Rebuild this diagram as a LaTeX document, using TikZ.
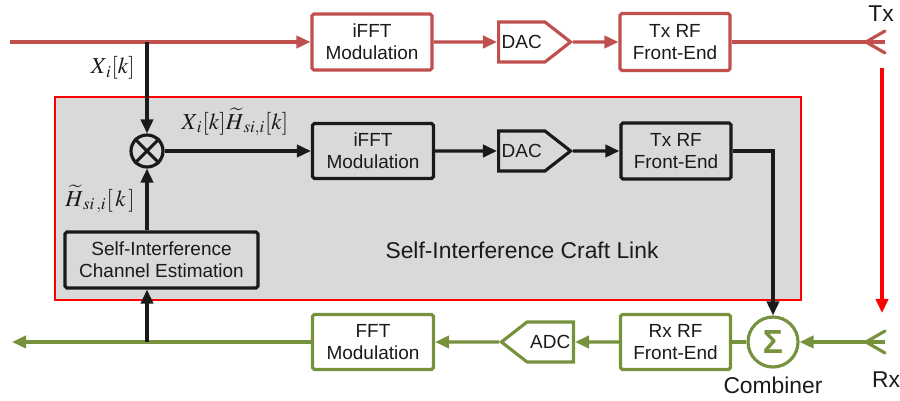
\documentclass[tikz,border=0pt]{standalone}
\usepackage{mathptmx}
\usepackage[no-math]{fontspec}
\setmainfont{Liberation Sans}
\usetikzlibrary{arrows.meta,shapes.symbols}

\definecolor{txred}{RGB}{192,80,77}
\definecolor{rxgreen}{RGB}{118,146,60}
\definecolor{craftgray}{RGB}{217,217,217}
\definecolor{ink}{RGB}{26,26,26}

\tikzset{
  every picture/.append style={x=0.02cm, y=-0.02cm},
  sigline/.style={draw=#1, line width=1.8pt},
  tip/.style={-{Triangle[length=8pt,width=7pt]}},
  blk/.style={draw=#1, line width=1.8pt, rounded corners=1pt, align=center,
    inner sep=1pt, font=\fontsize{10.8}{12.6}\selectfont, text=ink},
  conv/.style={draw=#1, line width=1.8pt, shape=signal, signal pointer angle=76,
    minimum width=1.44cm, minimum height=0.8cm, inner sep=1pt,
    font=\fontsize{10.8}{12.6}\selectfont, text=ink},
  lbl/.style={font=\fontsize{13}{15}\selectfont, text=ink},
}

\begin{document}
\begin{tikzpicture}
  \useasboundingbox (0,0) rectangle (900,401);

  % craft link
  \node[draw=red, line width=1pt, fill=craftgray, minimum width=14.92cm,
    minimum height=4.06cm] (craft) at(428,198.5){};
  \node[lbl] (craftlbl) at(522,250){Self-Interference Craft Link};

  % Tx chain
  \coordinate (tin) at(10,42);
  \coordinate (tsplit) at(147,42);
  \coordinate (tant) at(885,42);
  \node[blk=txred, fill=white, minimum width=2.4cm, minimum height=1.12cm] (tifft) at(372,42){iFFT\\Modulation};
  \node[conv=txred, fill=white, signal to=east, anchor=west] (tdac) at(497,42){DAC};
  \node[blk=txred, fill=white, minimum width=2.2cm, minimum height=1.14cm] (ttx) at(675,42){Tx RF\\Front-End};
  \draw[sigline=txred, tip] (tin) -- (tifft);
  \draw[sigline=txred, tip] (tifft) -- (tdac);
  \draw[sigline=txred, tip] (tdac) -- (ttx);
  \draw[sigline=txred] (ttx) -- (tant);
  \draw[sigline=txred, line cap=round, line join=round] (885,31) -- (866,42) -- (885,53);
  \node[lbl] (txlbl) at(881,14){Tx};

  % leakage
  \coordinate (lk1) at(882,68);
  \coordinate (lk2) at(882,313);
  \draw[sigline=red, tip] (lk1) -- (lk2);

  % inner chain
  \node[circle, draw=ink, line width=1.8pt, minimum size=0.64cm, inner sep=0pt] (mix) at(147,151){};
  \draw[ink, line width=1.8pt] (mix.north west) -- (mix.south east) (mix.north east) -- (mix.south west);
  \node[blk=ink, minimum width=2.42cm, minimum height=1.1cm] (iifft) at(373,151){iFFT\\Modulation};
  \node[conv=ink, signal to=east, anchor=west] (idac) at(497,151){DAC};
  \node[blk=ink, minimum width=2.2cm, minimum height=1.12cm] (itx) at(676,151){Tx RF\\Front-End};
  \node[blk=ink, minimum width=3.86cm, minimum height=1.12cm] (est) at(161.5,260){Self-Interference\\Channel Estimation};
  \draw[sigline=ink, tip] (tsplit) -- (mix);
  \draw[sigline=ink, tip] (mix) -- (iifft);
  \draw[sigline=ink, tip] (iifft) -- (idac);
  \draw[sigline=ink, tip] (idac) -- (itx);
  \draw[sigline=ink, tip] (mix |- est.north) -- (mix);

  \node[lbl, anchor=east] (xlbl) at(141,68){$X_{\,i}[k]$};
  \node[lbl] (ylbl) at(235,122){$X_{\,i}[k]\widetilde{H}_{\,si,i}[k]$};
  \node[lbl, anchor=east] (hlbl) at(141,199){$\widetilde{H}_{\,si\,,i}[\,k\,]$};

  % Rx chain
  \coordinate (rant) at(885,342);
  \coordinate (rsplit) at(147,342);
  \coordinate (rout) at(12,342);
  \node[circle, draw=rxgreen, line width=1.8pt, minimum size=1cm, inner sep=0pt, text=rxgreen,
    font=\fontsize{19}{19}\selectfont\bfseries] (comb) at(773,342){Σ};
  \node[blk=rxgreen, fill=white, minimum width=2.2cm, minimum height=1.1cm] (rxrf) at(675.5,342){Rx RF\\Front-End};
  \node[conv=rxgreen, fill=white, signal to=west, anchor=east] (adc) at(575,342){ADC};
  \node[blk=rxgreen, fill=white, minimum width=2.42cm, minimum height=1.1cm] (fft) at(373,342){FFT\\Modulation};
  \draw[sigline=rxgreen, tip] (rant) -- (comb);
  \draw[sigline=rxgreen] (comb) -- (rxrf);
  \draw[sigline=rxgreen, tip] (rxrf) -- (adc);
  \draw[sigline=rxgreen, tip] (adc) -- (fft);
  \draw[sigline=rxgreen, tip] (fft) -- (rout);
  \draw[sigline=rxgreen, line cap=round, line join=round] (885,331) -- (866,342) -- (885,353);
  \node[lbl] (rxlbl) at(886,380){Rx};
  \node[lbl] (comblbl) at(773,385){Combiner};

  \draw[sigline=ink, tip] (itx) -| (comb);
  \draw[sigline=ink, tip] (rsplit) -- (mix |- est.south);
\end{tikzpicture}
\end{document}
